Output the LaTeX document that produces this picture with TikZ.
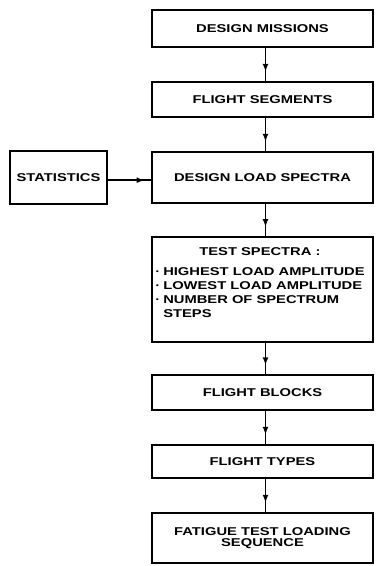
\documentclass[tikz,border=0pt]{standalone}
\usepackage{fontspec}
\usepackage{tikz}
\usetikzlibrary{arrows.meta,decorations.markings}
\newfontfamily\lblfont[FakeStretch=1.3]{Liberation Sans}

\begin{document}
\begin{tikzpicture}[x=0.75pt,y=-0.75pt,
  every node/.style={font=\lblfont\bfseries\fontsize{8.5}{10.5}\selectfont},
  stagebox/.style={draw,line width=1.4pt,minimum width=165.75pt,inner sep=0pt,align=center},
  flow/.style={line width=1.4pt,decoration={markings,mark=at position #1 with {\arrow{Latex[length=6pt,width=4.5pt]}}},postaction={decorate}},
  flow/.default=0.72]
\useasboundingbox (0,0) rectangle (375,566);
% main chain
\node[stagebox,minimum height=27.75pt] (miss) at (262.5,28.5) {DESIGN MISSIONS};
\node[stagebox,minimum height=26.25pt] (seg) at (262.5,99.5) {FLIGHT SEGMENTS};
\node[stagebox,minimum height=38.25pt] (dls) at (262.5,177.5) {DESIGN LOAD SPECTRA};
\node[stagebox,minimum width=72.75pt,minimum height=39.75pt] (stat) at (58.5,177.5) {STATISTICS};
\node[stagebox,minimum height=78.75pt] (test) at (262.5,289.5) {};
\node[anchor=base west,inner sep=0pt] (testlist) at (155,255)
  {\begin{tabular}[t]{@{}l@{}}
   \multicolumn{1}{c}{TEST SPECTRA :}\\[4.5pt]
   \makebox[6pt][l]{·}HIGHEST LOAD AMPLITUDE\\
   \makebox[6pt][l]{·}LOWEST LOAD AMPLITUDE\\
   \makebox[6pt][l]{·}NUMBER OF SPECTRUM\\
   \makebox[6pt][l]{}STEPS
   \end{tabular}};
\node[stagebox,minimum height=26.25pt] (blocks) at (262.5,392.5) {FLIGHT BLOCKS};
\node[stagebox,minimum height=24.75pt] (types) at (262.5,461.5) {FLIGHT TYPES};
\node[stagebox,minimum height=37.5pt] (fat) at (262.5,538) {FATIGUE TEST LOADING\\[-2pt]SEQUENCE};
% connectors
\draw[flow] ([xshift=2.25pt]miss.south) -- ([xshift=2.25pt]seg.north);
\draw[flow] ([xshift=2.25pt]seg.south) -- ([xshift=2.25pt]dls.north);
\draw[flow] ([xshift=2.25pt]dls.south) -- ([xshift=2.25pt]test.north);
\draw[flow] ([xshift=2.25pt]test.south) -- ([xshift=2.25pt]blocks.north);
\draw[flow] ([xshift=2.25pt]blocks.south) -- ([xshift=2.25pt]types.north);
\draw[flow] ([xshift=2.25pt]types.south) -- ([xshift=2.25pt]fat.north);
\draw[flow=0.85] ([yshift=-2pt]stat.east) -- ([yshift=-2pt]dls.west);
\end{tikzpicture}
\end{document}
